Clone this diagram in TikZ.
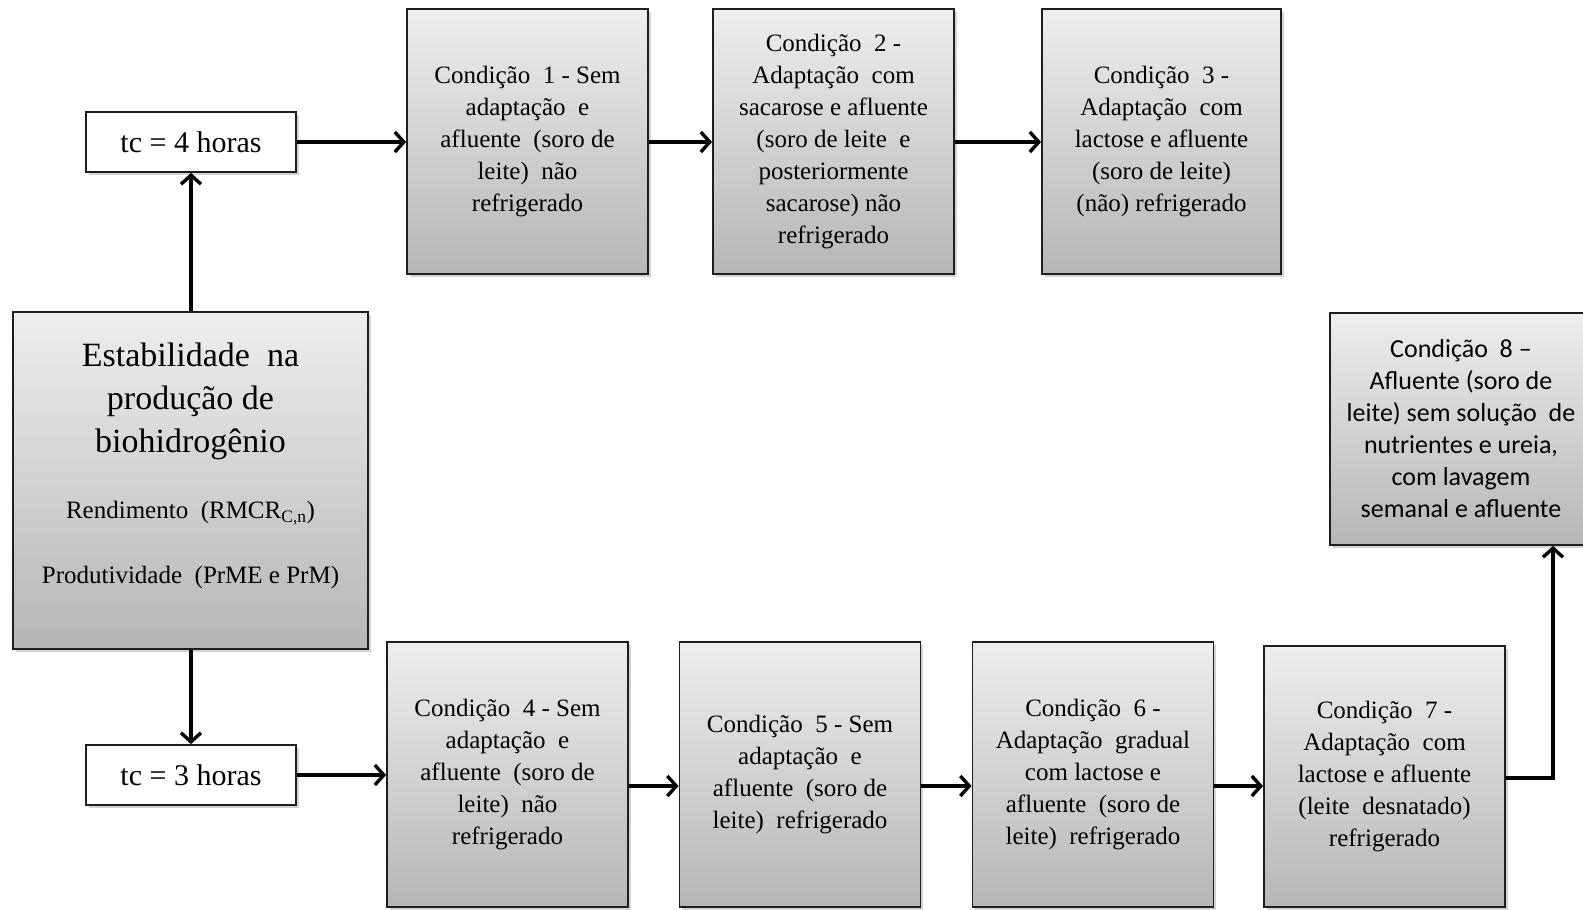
\documentclass[tikz,border=0pt]{standalone}
\usepackage{fontspec}
\setmainfont{Liberation Serif}
\newfontfamily\calfont{Carlito}
\usetikzlibrary{arrows.meta,shadows}
\definecolor{gtop}{RGB}{238,238,238}
\definecolor{gbot}{RGB}{182,182,182}
\definecolor{edge}{RGB}{30,30,30}
\tikzset{
  cbox/.style={draw=edge, line width=1.8pt, top color=gtop, bottom color=gbot,
    drop shadow={shadow xshift=2.5pt, shadow yshift=-2.5pt, opacity=0.35},
    align=center, inner sep=0pt, font=\fontsize{25}{32}\selectfont},
  tcbox/.style={draw=edge, line width=1.8pt, fill=white,
    drop shadow={shadow xshift=2.5pt, shadow yshift=-2.5pt, opacity=0.35},
    align=center, inner sep=0pt, minimum width=210pt, minimum height=60pt,
    font=\fontsize{30}{36}\selectfont},
  arr/.style={line width=3.4pt, -{Straight Barb[length=9pt,width=20pt,line width=3.4pt]}}
}
\begin{document}
\begin{tikzpicture}[x=1pt,y=-1pt]
\useasboundingbox (0,0) rectangle (1583,910);
% top row
\node[tcbox] (tc4) at (191,142) {tc = 4 horas};
\node[cbox, minimum width=241pt, minimum height=265pt] (c1) at (527.5,141.5)
  {Condição~ 1 - Sem\\adaptação~ e\\afluente~ (soro de\\leite)~ não\\refrigerado};
\node[cbox, minimum width=241pt, minimum height=265pt] (c2) at (833.5,141.5)
  {Condição~ 2 -\\Adaptação~ com\\sacarose e afluente\\(soro de leite~ e\\posteriormente\\sacarose) não\\refrigerado};
\node[cbox, minimum width=239pt, minimum height=265pt] (c3) at (1161.5,141.5)
  {Condição~ 3 -\\Adaptação~ com\\lactose e afluente\\(soro de leite)\\(não) refrigerado};
% main
\node[cbox, minimum width=355pt, minimum height=337pt] (main) at (190.5,480.5) {};
\node[align=center, inner sep=0pt, font=\fontsize{34}{43}\selectfont] (title) at (190.5,401)
  {Estabilidade~ na\\produção de\\biohidrogênio};
\node[inner sep=0pt, font=\fontsize{25}{30}\selectfont] (rend) at (190.5,513)
  {Rendimento~ (RMCR\textsubscript{C,n})};
\node[inner sep=0pt, font=\fontsize{25}{30}\selectfont] (prod) at (190.5,577)
  {Produtividade~ (PrME e PrM)};
% C8
\node[cbox, minimum width=262pt, minimum height=232pt, font=\calfont\fontsize{26}{32}\selectfont] (c8) at (1461,429)
  {Condição~ 8 –\\Afluente (soro de\\leite) sem solução~ de\\nutrientes e ureia,\\com lavagem\\semanal e afluente};
% bottom row
\node[tcbox] (tc3) at (191,775) {tc = 3 horas};
\node[cbox, minimum width=241pt, minimum height=265pt] (c4) at (507.5,774.5)
  {Condição~ 4 - Sem\\adaptação~ e\\afluente~ (soro de\\leite)~ não\\refrigerado};
\node[cbox, minimum width=241pt, minimum height=265pt] (c5) at (800,774.5)
  {Condição~ 5 - Sem\\adaptação~ e\\afluente~ (soro de\\leite)~ refrigerado};
\node[cbox, minimum width=241pt, minimum height=265pt] (c6) at (1093,774.5)
  {Condição~ 6 -\\Adaptação~ gradual\\com lactose e\\afluente~ (soro de\\leite)~ refrigerado};
\node[cbox, minimum width=241pt, minimum height=261pt] (c7) at (1384.5,776.5)
  {Condição~ 7 -\\Adaptação~ com\\lactose e afluente\\(leite~ desnatado)\\refrigerado};
% connectors
\draw[arr] (main.north -| tc4) -- (tc4.south);
\draw[arr] (main.south -| tc3) -- (tc3.north);
\draw[arr] (tc4.east) -- (c1.west |- tc4.east);
\draw[arr] (c1.east |- tc4.east) -- (c2.west |- tc4.east);
\draw[arr] (c2.east |- tc4.east) -- (c3.west |- tc4.east);
\draw[arr] (tc3.east) -- (c4.west |- tc3.east);
\coordinate (yb) at (0,786);
\draw[arr] (c4.east |- yb) -- (c5.west |- yb);
\draw[arr] (c5.east |- yb) -- (c6.west |- yb);
\draw[arr] (c6.east |- yb) -- (c7.west |- yb);
\coordinate (turn) at (1553,778);
\draw[arr] (c7.east |- turn) -- (turn) -- (turn |- c8.south);
\end{tikzpicture}
\end{document}
